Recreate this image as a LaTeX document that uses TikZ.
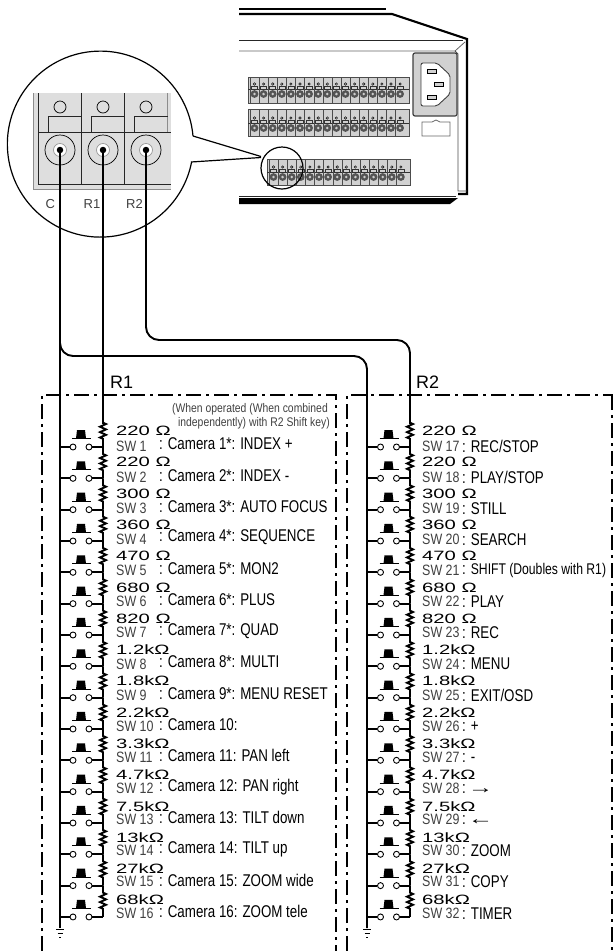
\documentclass[tikz,border=0pt]{standalone}
\usepackage{fontspec}
\usepackage{tikz}
\usetikzlibrary{decorations.pathmorphing}
\setmainfont{Liberation Sans}
\newfontfamily\narrowfont[FakeStretch=0.83]{Liberation Sans}
\newfontfamily\slimfont[FakeStretch=0.785]{Liberation Sans}
\newfontfamily\widefont[FakeStretch=1.5]{Liberation Sans}
\definecolor{mpanel}{rgb}{0.87, 0.87, 0.87}
\definecolor{mstrip}{rgb}{0.82, 0.82, 0.82}
\definecolor{mscrew}{rgb}{0.33, 0.33, 0.33}
\definecolor{mtext}{rgb}{0.25, 0.25, 0.25}
\tikzset{wire/.style = {line width=1.9, black}}
\tikzset{thinline/.style = {line width=0.7, black!85}}
\tikzset{boxline/.style = {line width=1.5, black, dash pattern=on 15 off 5 on 3 off 5}}
\tikzset{contact/.style = {draw, circle, fill=white, line width=0.9, inner sep=0, minimum size=6}}
\tikzset{jack/.style = {fill, circle, inner sep=0, minimum size=6.5}}
\tikzset{ring/.style = {draw, circle, line width=0.7, inner sep=0}}
\tikzset{plain/.style = {anchor=west, inner sep=0}}
\begin{document}
\begin{tikzpicture}[x=1pt, y=-1pt]
  \useasboundingbox (0, 0) rectangle (613, 951);

  \draw [line width=2] (239, 9) -- (386, 9);
  \draw [line width=2.1] (239, 14) -- (392, 14) -- (467, 39) -- (467, 194) -- (458, 194);
  \draw [thinline] (239, 40) -- (463, 40);
  \draw [line width=0.8, black!60] (239, 51) -- (455, 51) -- (465, 42);
  \draw [line width=0.8, black!70] (455, 51) -- (458, 54) -- (458, 191) -- (467, 191);
  \draw [thinline] (239, 196) -- (456, 196);
  \fill (239, 198) -- (458, 198) -- (450, 204) -- (239, 204) -- cycle;

  \draw [line width=1.2, black!75, fill=mstrip, rounded corners=2] (413, 53) rectangle (457, 116);
  \draw [line width=0.9, black!75, fill=white, rounded corners=2] (421, 63) -- (437, 63) -- (450, 75) -- (450, 94) -- (437, 106) -- (421, 106) -- cycle;
  \foreach \sx/\sy in {427/69, 434/82, 427/95} {
    \draw [line width=0.7, fill=mstrip] (\sx, \sy) rectangle ++(9, 4);
  }
  \draw [line width=0.7, black!60] (422, 122) -- (432, 122) -- (436, 120) -- (440, 122) -- (450, 122) -- (450, 136) -- (422, 136) -- cycle;

  \foreach \top/\bot/\sx/\ex/\cy/\cnt in {77/103/248/409/84/17, 109/136/248/409/118/17, 159/185/267/410/167/15} {
    \draw [line width=0.9, black!70, fill=mstrip] (\sx, \top) rectangle (\ex, \bot);
    \draw [line width=0.6, black!80] (\sx, \cy+5) -- (\ex, \cy+5);
    \foreach \c in {1, ..., \cnt} {
      \pgfmathsetmacro{\cx}{\sx+6.5+9.1*(\c-1)}
      \draw [line width=0.4, black!70] (\cx-4.5, \top) -- (\cx-4.5, \bot);
      \draw [line width=0.5, black!80] (\cx-3, \cy+5) -- (\cx-3, \cy+2) -- (\cx+3, \cy+2) -- (\cx+3, \cy+5);
      \draw [line width=0.5, fill=white] (\cx, \cy) circle [radius=1.2];
      \fill [mscrew] (\cx, \cy+10) circle [radius=3.9];
      \fill [black!20] (\cx, \cy+10) circle [radius=1.4];
    }
  }

  \draw [line width=1.2] (282, 168) circle [radius=21];
  \draw [line width=1.2] (193, 136) -- (261, 156.5);
  \draw [line width=1.2] (191, 162) -- (261, 157.5);
  \draw [line width=1.2] (193, 136) arc [start angle=-5, end angle=-349, radius=93];

  \fill [mpanel] (33, 93) rectangle (171, 190);
  \draw [line width=0.9, black!45] (33, 93) -- (33, 189.5) -- (171, 189.5);
  \draw [line width=0.8, black!85] (38, 93) -- (38, 184) -- (171, 184);
  \draw [line width=0.8, black!85] (38, 132) -- (171, 132);
  \foreach \vx in {81.5, 124.5} {
    \draw [line width=0.8, black!85] (\vx, 93) -- (\vx, 184);
  }
  \draw [line width=0.8, black!45] (167.5, 93) -- (167.5, 132);
  \foreach \ja/\jx in {C/60, R1/103, R2/146} {
    \node [ring, minimum size=12] (pilot\ja) at (\jx, 107) {};
    \draw [line width=0.8, black!85] (\jx-12, 132) -- (\jx-12, 116) -- (\jx+21.5, 116);
    \node [ring, minimum size=30] (outer\ja) at (\jx, 150) {};
    \node [ring, minimum size=13, draw=black!40, fill=white] (inner\ja) at (\jx, 150) {};
    \node [jack] (jack\ja) at (\jx, 150) {};
  }
  \node [plain, text=mtext, font=\fontsize{13}{13}\selectfont] (lblC) at (45.5, 204) {C};
  \node [plain, text=mtext, font=\fontsize{13}{13}\selectfont] (lblR1) at (83.5, 204) {R1};
  \node [plain, text=mtext, font=\fontsize{13}{13}\selectfont] (lblR2) at (126, 204) {R2};

  \coordinate (endC) at (60, 928);
  \coordinate (endD) at (367, 928);
  \coordinate (topR2) at (410, 424);
  \coordinate (topR1) at (103, 424);
  \draw [wire] (jackC.center) -- (endC);
  \draw [wire] (jackR1.center) -- (topR1);
  \draw [wire, rounded corners=13] (60, 335) -- (60, 356) -- (367, 356) -- (endD);
  \draw [wire, rounded corners=13] (jackR2.center) -- (146, 340) -- (410, 340) -- (topR2);

  \draw [boxline] (42, 951) -- (42, 395) -- (336, 395) -- (336, 951);
  \draw [boxline] (347, 951) -- (347, 395) -- (613, 395);
  \draw [boxline] (612, 395) -- (612, 951);
  \node [plain, font=\fontsize{18}{18}\selectfont] (titleR1) at (110, 382) {R1};
  \node [plain, font=\fontsize{18}{18}\selectfont] (titleR2) at (416, 382) {R2};
  \node [anchor=east, inner sep=0, text=mtext, font=\narrowfont\fontsize{12.5}{12.5}\selectfont] (noteA) at (328, 409) {(When operated (When combined};
  \node [anchor=east, inner sep=0, text=mtext, font=\narrowfont\fontsize{12.5}{12.5}\selectfont] (noteB) at (330, 423) {independently) with R2 Shift key)};

  \foreach \n/\r/\t in {1/220 Ω/Camera 1*: INDEX +, 2/220 Ω/Camera 2*: INDEX -, 3/300 Ω/Camera 3*: AUTO FOCUS, 4/360 Ω/Camera 4*: SEQUENCE, 5/470 Ω/Camera 5*: MON2, 6/680 Ω/Camera 6*: PLUS, 7/820 Ω/Camera 7*: QUAD, 8/1.2kΩ/Camera 8*: MULTI, 9/1.8kΩ/Camera 9*: MENU RESET, 10/2.2kΩ/Camera 10:, 11/3.3kΩ/Camera 11: PAN left, 12/4.7kΩ/Camera 12: PAN right, 13/7.5kΩ/Camera 13: TILT down, 14/13kΩ/Camera 14: TILT up, 15/27kΩ/Camera 15: ZOOM wide, 16/68kΩ/Camera 16: ZOOM tele, 17/220 Ω/{REC/STOP}, 18/220 Ω/{PLAY/STOP}, 19/300 Ω/STILL, 20/360 Ω/SEARCH, 21/470 Ω/{\fontsize{15.5}{15.5}\selectfont SHIFT (Doubles with R1)}, 22/680 Ω/PLAY, 23/820 Ω/REC, 24/1.2kΩ/MENU, 25/1.8kΩ/{EXIT/OSD}, 26/2.2kΩ/+, 27/3.3kΩ/-, 28/4.7kΩ/{\kern-3pt\widefont →}, 29/7.5kΩ/{\kern-3pt\widefont ←}, 30/13kΩ/ZOOM, 31/27kΩ/COPY, 32/68kΩ/TIMER} {
    \pgfmathsetmacro{\k}{mod(\n-1, 16)}
    \pgfmathsetmacro{\y}{447+31.33*\k}
    \pgfmathsetmacro{\dx}{\n > 16 ? 307.5 : 0}
    \pgfmathsetmacro{\tx}{\n > 16 ? 306 : 0}
    \pgfmathsetmacro{\cx}{\n > 16 ? 462 : 159}
    \pgfmathsetmacro{\cy}{\n > 16 ? 446 : 444}
    \coordinate (lbus\n) at (60+\dx-0.5*\dx/307.5, \y);
    \coordinate (rbus\n) at (103+\dx-0.5*\dx/307.5, \y);
    \coordinate (rtop\n) at (103+\dx-0.5*\dx/307.5, \y-31.33);
    \node [contact] (swa\n) at (73+\dx, \y) {};
    \node [contact] (swb\n) at (89+\dx, \y) {};
    \draw [wire] (lbus\n) -- (swa\n);
    \draw [wire] (swb\n) -- (rbus\n);
    \draw [wire] (rtop\n) -- ++(0, 7) decorate [decoration={zigzag, amplitude=3, segment length=5.4}] { -- ++(0, 18) } -- (rbus\n);
    \draw [line width=0.8] (72+\dx, \y-8.5) -- (91+\dx, \y-8.5);
    \fill (76+\dx, \y-8.5) -- (77+\dx, \y-17) -- (85+\dx, \y-17) -- (86+\dx, \y-8.5) -- cycle;
    \node [plain, font=\widefont\fontsize{13.5}{13.5}\selectfont] (res\n) at (116+\tx, 431+31.27*\k) {\r};
    \node [plain, text=mtext, font=\narrowfont\fontsize{15}{15}\selectfont] (swl\n) at (116+\tx, 446+31.13*\k) {SW \n};
    \node [plain, font=\slimfont\fontsize{17}{17}\selectfont] (txt\n) at (\cx, \cy+31.15*\k) {: \t};
  }

  \foreach \gx in {60, 367} {
    \draw [line width=0.7] (\gx-4, 929) -- (\gx+4, 929);
    \draw [line width=0.7] (\gx-2.5, 933) -- (\gx+2.5, 933);
    \draw [line width=0.7] (\gx-1, 937) -- (\gx+1, 937);
  }
\end{tikzpicture}
\end{document}
